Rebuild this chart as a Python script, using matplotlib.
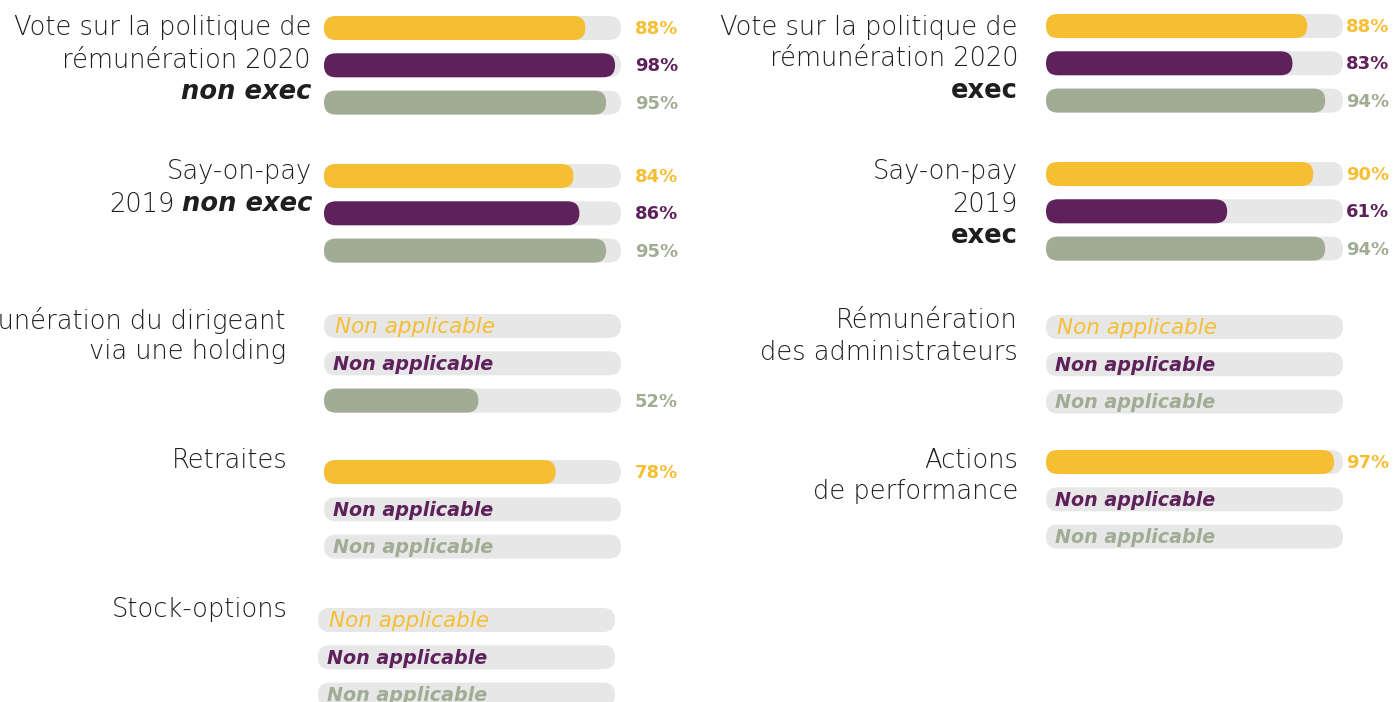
import matplotlib.pyplot as plt
from matplotlib.patches import FancyBboxPatch

yellow = '#F6BF33'
purple = '#5E215B'
green = '#A0AD94'
track = '#E7E7E7'
ink = '#1E1E1E'

# left panel (non exec) - each line: (normal text, emphasised text)
left_labels = [
    [("Vote sur la politique de", ""), ("rémunération 2020", ""), ("", "non exec")],
    [("Say-on-pay", ""), ("2019", "non exec")],
    [("Rémunération du dirigeant", ""), ("via une holding", "")],
    [("Retraites", "")],
    [("Stock-options", "")],
]
left_yellow = [88, 84, None, 78, None]
left_purple = [98, 86, None, None, None]
left_green = [95, 95, 52, None, None]

# right panel (exec)
right_labels = [
    [("Vote sur la politique de", ""), ("rémunération 2020", ""), ("", "exec")],
    [("Say-on-pay", ""), ("2019", ""), ("", "exec")],
    [("Rémunération", ""), ("des administrateurs", "")],
    [("Actions", ""), ("de performance", "")],
]
right_yellow = [88, 90, None, 97]
right_purple = [83, 61, None, None]
right_green = [94, 94, None, None]

# layout (pixels)
left_bar_y = [28, 176, 326, 472, 620]
left_text_y = [28, 172, 320, 460, 610]
left_text_x = [311, 312, 286, 288, 288]
left_track_x = [324, 324, 324, 324, 318]
right_bar_y = [26, 174, 327, 462]
right_text_y = [27, 172, 320, 460]
right_text_x = [1018, 1018, 1018, 1018]
right_track_x = [1046, 1046, 1046, 1046]
track_w = 297
bar_h = 24
bar_gap = 37.3
line_gap = 32
label_size = 18.5

plt.rcParams['font.family'] = ['DejaVu Sans']

fig = plt.figure(figsize=(13.96, 7.02), dpi=100)
ax = fig.add_axes([0, 0, 1, 1])
ax.set_xlim(0, 1396)
ax.set_ylim(702, 0)
ax.axis('off')


def pill(x, y, w, color):
    ax.add_patch(FancyBboxPatch((x, y - bar_h / 2), w, bar_h,
                                boxstyle="round,pad=0,rounding_size=%g" % (bar_h / 2),
                                fc=color, ec='none'))


def draw_label(lines, x, y, emph_style):
    for i, (normal, emph) in enumerate(lines):
        yy = y + i * line_gap
        if emph:
            t = ax.text(x, yy, emph, ha='right', va='center', fontsize=label_size,
                        color=ink, fontweight='bold', fontstyle=emph_style)
            if normal:
                ax.annotate(normal, xy=(0, 0.5), xycoords=t, xytext=(-5, 0),
                            textcoords='offset points', ha='right', va='center',
                            fontsize=label_size, color=ink, fontweight='light')
        else:
            ax.text(x, yy, normal, ha='right', va='center', fontsize=label_size,
                    color=ink, fontweight='light')


def draw_bars(x0, y0, vals, colors, pct_off):
    for i, (v, c) in enumerate(zip(vals, colors)):
        y = y0 + i * bar_gap
        pill(x0, y, track_w, track)
        if v is None:
            if c == yellow:
                ax.text(x0 + 11, y + 1, "Non applicable", ha='left', va='center',
                        fontsize=15.5, color=c, fontstyle='italic', fontweight='light')
            else:
                ax.text(x0 + 9, y + 1, "Non applicable", ha='left', va='center',
                        fontsize=13.8, color=c, fontstyle='italic', fontweight='bold')
        else:
            pill(x0, y, track_w * v / 100, c)
            ax.text(x0 + track_w + pct_off, y + 1, "%d%%" % v, ha='left', va='center',
                    fontsize=13, color=c, fontweight='bold')


colors = [yellow, purple, green]
for k in range(len(left_labels)):
    draw_label(left_labels[k], left_text_x[k], left_text_y[k], 'italic')
    vals = [left_yellow[k], left_purple[k], left_green[k]]
    draw_bars(left_track_x[k], left_bar_y[k], vals, colors, 14)

for k in range(len(right_labels)):
    draw_label(right_labels[k], right_text_x[k], right_text_y[k], 'normal')
    vals = [right_yellow[k], right_purple[k], right_green[k]]
    draw_bars(right_track_x[k], right_bar_y[k], vals, colors, 3)

fig.savefig('out.png', dpi=100)
